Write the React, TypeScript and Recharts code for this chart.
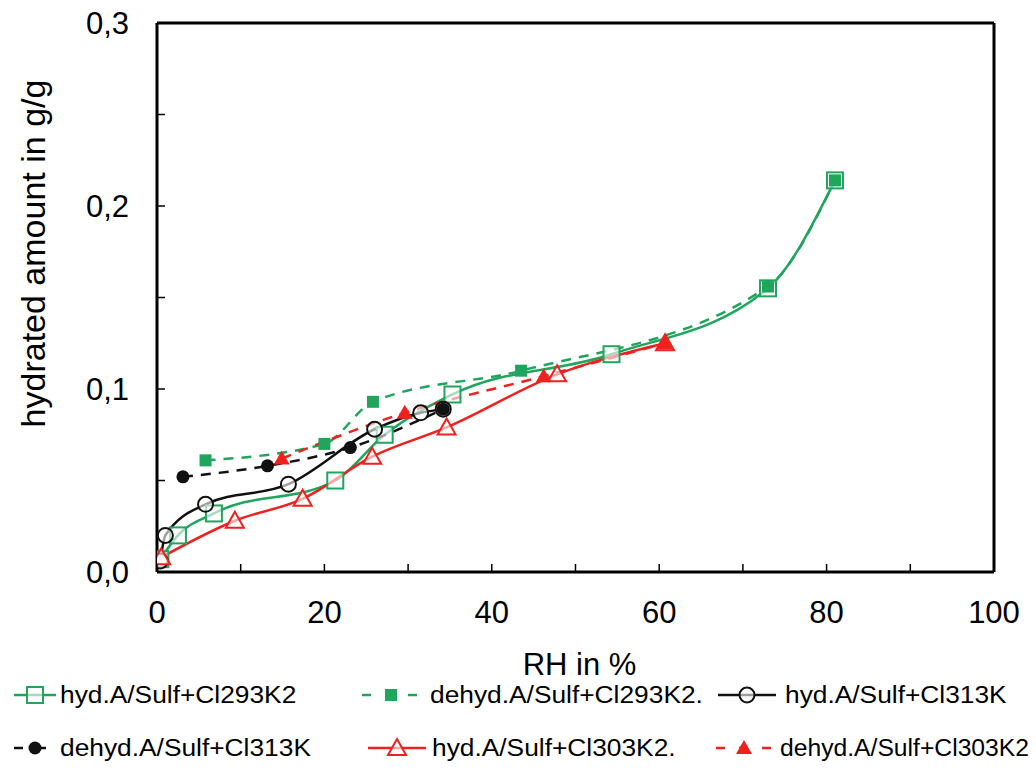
import React from 'react';
import { LineChart, Line, XAxis, YAxis, ReferenceLine, Legend } from 'recharts';

const hyd293 = [
  { x: 0.4, y: 0.007 }, { x: 2.5, y: 0.02 }, { x: 6.8, y: 0.032 }, { x: 21.3, y: 0.05 },
  { x: 27.2, y: 0.075 }, { x: 35.3, y: 0.097 }, { x: 54.3, y: 0.119 }, { x: 73, y: 0.155 }, { x: 81, y: 0.214 },
];
const dehyd293 = [
  { x: 5.8, y: 0.061 }, { x: 20, y: 0.07 }, { x: 25.8, y: 0.093 }, { x: 43.5, y: 0.11 },
  { x: 73, y: 0.156 }, { x: 81, y: 0.214 },
];
const hyd313 = [
  { x: 0.4, y: 0.006 }, { x: 1, y: 0.02 }, { x: 5.8, y: 0.037 }, { x: 15.7, y: 0.048 },
  { x: 26, y: 0.078 }, { x: 31.5, y: 0.087 }, { x: 34.2, y: 0.089 },
];
const dehyd313 = [
  { x: 3.1, y: 0.052 }, { x: 13.2, y: 0.058 }, { x: 23.1, y: 0.068 }, { x: 34.2, y: 0.089 },
];
const hyd303 = [
  { x: 0.5, y: 0.008 }, { x: 9.3, y: 0.028 }, { x: 17.4, y: 0.04 }, { x: 25.7, y: 0.063 },
  { x: 34.6, y: 0.079 }, { x: 47.8, y: 0.108 }, { x: 60.7, y: 0.125 },
];
const dehyd303 = [
  { x: 14.9, y: 0.062 }, { x: 29.6, y: 0.087 }, { x: 46.2, y: 0.107 }, { x: 60.7, y: 0.125 },
];

const xTicks = [0, 10, 20, 30, 40, 50, 60, 70, 80, 90, 100];
const yTicks = [0, 0.05, 0.1, 0.15, 0.2, 0.25, 0.3];
const xTitle = 'RH in %';
const yTitle = 'hydrated amount in g/g';

const GREEN = '#1fa55c';
const RED = '#f0201e';
const BLACK = '#111111';
const FONT = '"Liberation Sans", Arial, sans-serif';

type Shape = 'openSquare' | 'square' | 'openCircle' | 'circle' | 'openTriangle' | 'triangle';

const series: { name: string; data: { x: number; y: number }[]; color: string; dashed: boolean; shape: Shape }[] = [
  { name: 'hyd.A/Sulf+Cl293K2', data: hyd293, color: GREEN, dashed: false, shape: 'openSquare' },
  { name: 'dehyd.A/Sulf+Cl293K2.', data: dehyd293, color: GREEN, dashed: true, shape: 'square' },
  { name: 'hyd.A/Sulf+Cl313K', data: hyd313, color: BLACK, dashed: false, shape: 'openCircle' },
  { name: 'dehyd.A/Sulf+Cl313K', data: dehyd313, color: BLACK, dashed: true, shape: 'circle' },
  { name: 'hyd.A/Sulf+Cl303K2.', data: hyd303, color: RED, dashed: false, shape: 'openTriangle' },
  { name: 'dehyd.A/Sulf+Cl303K2', data: dehyd303, color: RED, dashed: true, shape: 'triangle' },
];

// legend layout: [iconLeft, iconWidth, textLeft, rowCenter, textScale]
const legendPos = [
  [12, 46, 60, 23, 1.12],
  [360, 62, 430, 23, 1.12],
  [716, 62, 785, 23, 1.12],
  [12, 46, 60, 76, 1.12],
  [366, 62, 432, 76, 1.12],
  [714, 60, 780, 76, 1.05],
];

function Marker({ cx, cy, shape, color }: { cx: number; cy: number; shape: Shape; color: string }) {
  switch (shape) {
    case 'openSquare':
      return <rect x={cx - 8} y={cy - 8} width={16} height={16} fill="#fff" fillOpacity={0.6} stroke={color} strokeWidth={2} />;
    case 'square':
      return <rect x={cx - 6} y={cy - 6} width={12} height={12} fill={color} />;
    case 'openCircle':
      return <circle cx={cx} cy={cy} r={7.5} fill="#fff" fillOpacity={0.6} stroke={color} strokeWidth={2} />;
    case 'circle':
      return <circle cx={cx} cy={cy} r={6.5} fill={color} />;
    case 'openTriangle':
      return <polygon points={`${cx},${cy - 9} ${cx + 9},${cy + 7} ${cx - 9},${cy + 7}`} fill="#fff" fillOpacity={0.6} stroke={color} strokeWidth={2} />;
    case 'triangle':
      return <polygon points={`${cx},${cy - 8} ${cx + 8},${cy + 6} ${cx - 8},${cy + 6}`} fill={color} />;
  }
  return null;
}

const XTick = (props: any) => {
  const { x, y, payload } = props;
  const v = payload.value;
  return (
    <g>
      <line x1={x} x2={x} y1={y} y2={y - 8} stroke="#000" strokeWidth={1.5} />
      {v % 20 === 0 && (
        <text x={x} y={y + 51} textAnchor="middle" fontSize={31} fontFamily={FONT} fill="#000">
          {v}
        </text>
      )}
    </g>
  );
};

const YTick = (props: any) => {
  const { x, y, payload } = props;
  const v = payload.value;
  const major = Math.abs((v * 10) - Math.round(v * 10)) < 1e-6;
  return (
    <g>
      <line x1={x} x2={x + 8} y1={y} y2={y} stroke="#000" strokeWidth={1.5} />
      {major && (
        <text x={x - 28} y={y + 11} textAnchor="end" fontSize={31} fontFamily={FONT} fill="#000">
          {v.toFixed(1).replace('.', ',')}
        </text>
      )}
    </g>
  );
};

const LegendContent = () => {
  return (
    <div style={{ position: 'relative', width: 1036, height: 106, fontFamily: FONT, overflow: 'hidden' }}>
      {series.map((s, i) => {
        const [iconLeft, iconW, textLeft, rowY, sc] = legendPos[i];
        return (
          <React.Fragment key={s.name}>
            <svg width={iconW} height={28} style={{ position: 'absolute', left: iconLeft, top: rowY - 14 }}>
              <line x1={2} x2={iconW - 2} y1={14} y2={14} stroke={s.color} strokeWidth={2.5} strokeDasharray={s.dashed ? '9 14' : undefined} />
              <Marker cx={iconW / 2} cy={14} shape={s.shape} color={s.color} />
            </svg>
            <span
              style={{
                position: 'absolute',
                left: textLeft,
                top: rowY - 12,
                height: 24,
                lineHeight: '24px',
                fontSize: 23.5,
                color: '#000',
                whiteSpace: 'nowrap',
                transform: `scaleX(${sc})`,
                transformOrigin: 'left center',
              }}
            >
              {s.name}
            </span>
          </React.Fragment>
        );
      })}
    </div>
  );
};

export default function App() {
  return (
    <div style={{ position: 'absolute', left: 0, top: 0, width: 1036, height: 778, background: '#fff', overflow: 'hidden' }}>
      <LineChart width={1036} height={778} margin={{ top: 23, right: 42, bottom: 0, left: 0 }}>
        <XAxis
          type="number"
          dataKey="x"
          domain={[0, 100]}
          ticks={xTicks}
          interval={0}
          tickSize={0}
          tickMargin={0}
          height={100}
          tick={<XTick />}
          axisLine={{ stroke: '#000', strokeWidth: 3 }}
          tickLine={false}
          label={(p: any) => {
            const vb = p.viewBox;
            return (
              <text x={vb.x + vb.width / 2 + 4} y={vb.y + 103} textAnchor="middle" fontSize={31} fontFamily={FONT} fill="#000">
                {xTitle}
              </text>
            );
          }}
          allowDataOverflow
        />
        <YAxis
          type="number"
          domain={[0, 0.3]}
          ticks={yTicks}
          interval={0}
          width={157}
          tickSize={0}
          tickMargin={0}
          tick={<YTick />}
          axisLine={{ stroke: '#000', strokeWidth: 3 }}
          tickLine={false}
          label={(p: any) => {
            const vb = p.viewBox;
            const cx = 33;
            const cy = vb.y + vb.height / 2 - 44;
            return (
              <text x={cx} y={cy} transform={`rotate(-90, ${cx}, ${cy})`} textAnchor="middle" dominantBaseline="central" fontSize={34} fontFamily={FONT} fill="#000">
                {yTitle}
              </text>
            );
          }}
          allowDataOverflow
        />
        <ReferenceLine y={0.3} stroke="#000" strokeWidth={3} />
        <ReferenceLine x={100} stroke="#000" strokeWidth={3} />
        {series.map((s) => (
          <Line
            key={s.name}
            data={s.data}
            dataKey="y"
            name={s.name}
            type="monotone"
            stroke={s.color}
            strokeWidth={2.5}
            strokeDasharray={s.dashed ? '10 8' : undefined}
            isAnimationActive={false}
            dot={(p: any) => <Marker key={`${s.name}-${p.index}`} cx={p.cx} cy={p.cy} shape={s.shape} color={s.color} />}
            activeDot={false}
          />
        ))}
        <Legend verticalAlign="bottom" content={<LegendContent />} wrapperStyle={{ left: 0, width: 1036, height: 106 }} />
      </LineChart>
    </div>
  );
}
